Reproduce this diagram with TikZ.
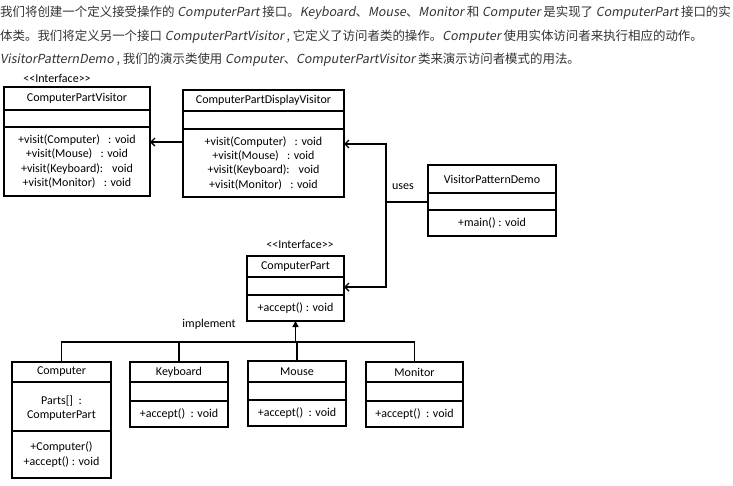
\documentclass[tikz,border=0pt]{standalone}
\usepackage{fontspec}
\setmainfont{Carlito}
\newfontfamily\cjkfont{Noto Sans CJK SC}
\newfontfamily\cjkitfont[FakeSlant=0.18]{Noto Sans CJK SC}
\usetikzlibrary{arrows.meta}
\newcommand\lat[1]{{\cjkitfont #1}}
\newcommand\stereo[1]{{<}{<}#1{>}{>}}
\definecolor{prose}{HTML}{333333}
\tikzset{
  box/.style={draw, line width=1.1pt, inner sep=0pt, outer sep=0pt},
  sep/.style={line width=1.1pt},
  txt/.style={font=\fontsize{12}{14.3}\selectfont, inner sep=0pt, align=center},
  conn/.style={line width=1.6pt},
  barb/.style={-{Straight Barb[length=4pt,width=8pt,line width=1.4pt]}},
  tri/.style={-{Triangle[length=6pt,width=6pt]}},
  prosetext/.style={font=\cjkfont\fontsize{12.45}{14}\selectfont, text=prose, anchor=west, inner sep=0pt}
}
\newcommand\umlclass[9]{%
  \node[box, minimum width={(#4-#2)*1pt}, minimum height={(#5-#3)*1pt}, anchor=north west] (#1) at (#2,#3) {};
  \draw[sep] (#2,#6) -- (#4,#6);
  \draw[sep] (#2,#7) -- (#4,#7);
  \node[txt] (#1-title) at ({(#2+#4)/2},{(#3+#6)/2}) {#8};
  \node[txt] (#1-ops) at ({(#2+#4)/2},{(#7+#5)/2}) {#9};
}
\begin{document}
\begin{tikzpicture}[x=1pt,y=-1pt]
\useasboundingbox (0,0) rectangle (733,485);
% prose
\node[prosetext] (p1) at (0,13) {我们将创建一个定义接受操作的 \lat{ComputerPart} 接口。\lat{Keyboard}、\lat{Mouse}、\lat{Monitor} 和 \lat{Computer} 是实现了 \lat{ComputerPart} 接口的实};
\node[prosetext] (p2) at (0,37) {体类。我们将定义另一个接口 \lat{ComputerPartVisitor} , 它定义了访问者类的操作。\lat{Computer} 使用实体访问者来执行相应的动作。};
\node[prosetext] (p3) at (0,60) {\lat{VisitorPatternDemo} , 我们的演示类使用 \lat{Computer}、\lat{ComputerPartVisitor} 类来演示访问者模式的用法。};

% classes
\node[txt] (int1) at (57,78) {\stereo{Interface}};
\umlclass{cpv}{4}{87}{150}{196}{110}{127}{ComputerPartVisitor}{+visit(Computer)~~ : void\\+visit(Mouse)~~ : void\\+visit(Keyboard):~~ void\\+visit(Monitor)~~ : void}
\umlclass{cpdv}{183}{90}{344}{197}{111}{129}{ComputerPartDisplayVisitor}{+visit(Computer)~~ : void\\+visit(Mouse)~~ : void\\+visit(Keyboard):~~ void\\+visit(Monitor)~~ : void}
\umlclass{vpd}{428}{165}{556}{236}{193}{210}{VisitorPatternDemo}{+main() : void}
\node[txt] (int2) at (300,244) {\stereo{Interface}};
\umlclass{cp}{247}{256}{344}{321}{277}{295}{ComputerPart}{+accept() : void}
\umlclass{comp}{12}{362}{111}{478}{382}{431}{Computer}{+Computer()\\+accept() : void}
\node[txt] (comp-attr) at (61.5,408) {Parts[]~ :\\ComputerPart};
\umlclass{kb}{130}{362}{228}{427}{382}{401}{Keyboard}{+accept()~ : void}
\umlclass{mouse}{248}{361}{346}{426}{382}{400}{Mouse}{+accept()~ : void}
\umlclass{mon}{366}{362}{463}{427}{382}{401}{Monitor}{+accept()~ : void}

% connectors
\coordinate (y142) at (0,142);
\draw[conn,barb] (cpdv.west |- y142) -- (cpv.east |- y142);
\coordinate (u1) at (386,202);
\coordinate (u2) at (386,144);
\coordinate (u3) at (386,287);
\draw[conn,barb] (vpd.west |- u1) -- (u1) -- (u2) -- (cpdv.east |- u2);
\draw[conn,barb] (u1) -- (u3) -- (cp.east |- u3);
\node[txt] (uses) at (403,187) {uses};

\coordinate (ybus) at (0,342);
\coordinate (b) at (cp.south |- ybus);
\draw[conn] (comp.north) -- (comp.north |- ybus) -- (mon.north |- ybus) -- (mon.north);
\draw[conn] (kb.north) -- (kb.north |- ybus);
\draw[conn] (mouse.north) -- (mouse.north |- ybus);
\draw[conn,tri] (b) -- (cp.south);
\node[txt] (impl) at (209,324) {implement};
\end{tikzpicture}
\end{document}
